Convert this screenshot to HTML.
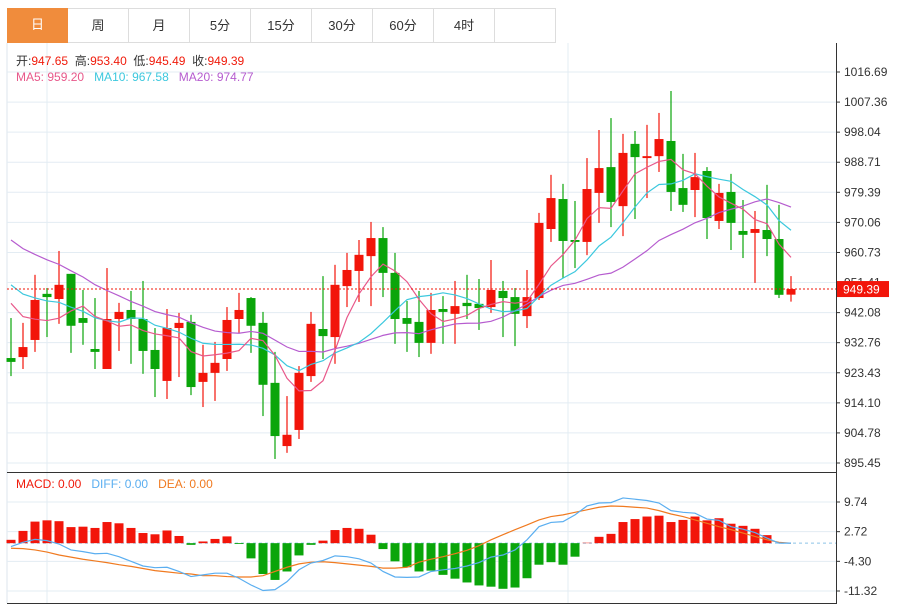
<!DOCTYPE html>
<html><head><meta charset="utf-8"><style>
body{margin:0;background:#fff;font-family:"Liberation Sans","Noto Sans CJK SC",sans-serif;}
#wrap{position:relative;width:910px;height:604px;overflow:hidden;}
.tab{position:absolute;top:8px;height:35px;width:60px;border:1px solid #ddd;border-left:none;box-sizing:border-box;font-size:13px;color:#333;text-align:center;line-height:34px;background:#fff;}
.lbl{position:absolute;font-size:12px;white-space:nowrap;}
</style></head><body>
<div id="wrap">
<div class="tab" style="left:7px;width:61px;background:#f08c3c;color:#fff;border:none;">日</div>
<div class="tab" style="left:68px;width:61px;">周</div>
<div class="tab" style="left:129px;width:61px;">月</div>
<div class="tab" style="left:190px;width:61px;">5分</div>
<div class="tab" style="left:251px;width:61px;">15分</div>
<div class="tab" style="left:312px;width:61px;">30分</div>
<div class="tab" style="left:373px;width:61px;">60分</div>
<div class="tab" style="left:434px;width:61px;">4时</div>
<div class="tab" style="left:495px;width:61px;"></div>
<svg id="chart" width="910" height="604" style="position:absolute;left:0;top:0;"></svg>
<div class="lbl" style="left:16px;top:52px;color:#333;">开:<span style="color:#f01a0a">947.65</span>&nbsp;&nbsp;高:<span style="color:#f01a0a">953.40</span>&nbsp;&nbsp;低:<span style="color:#f01a0a">945.49</span>&nbsp;&nbsp;收:<span style="color:#f01a0a">949.39</span></div>
<div class="lbl" style="left:16px;top:70px;"><span style="color:#e8588a">MA5: 959.20</span>&nbsp;&nbsp;&nbsp;<span style="color:#3cc8de">MA10: 967.58</span>&nbsp;&nbsp;&nbsp;<span style="color:#b65ccf">MA20: 974.77</span></div>
<div class="lbl" style="left:16px;top:477px;"><span style="color:#f01a0a">MACD: 0.00</span>&nbsp;&nbsp;&nbsp;<span style="color:#5aaef0">DIFF: 0.00</span>&nbsp;&nbsp;&nbsp;<span style="color:#f07a20">DEA: 0.00</span></div>
</div>
<script>
const opens=[928.0,928.3,933.6,947.9,946.3,954.1,940.4,930.8,924.6,940.1,942.9,940.1,930.5,920.9,937.3,939.2,920.6,923.4,927.7,940.1,946.6,938.9,920.3,900.7,905.7,922.4,937.0,934.5,950.3,955.0,959.6,965.2,954.4,940.4,939.2,932.7,943.2,941.7,945.1,944.8,943.8,948.8,946.9,941.0,946.6,968.0,977.3,964.6,964.0,979.2,987.2,975.1,994.4,990.0,990.6,995.3,980.7,980.1,986.0,970.5,979.5,967.4,966.8,967.7,964.9,947.65];
const closes=[926.8,931.4,946.0,946.9,950.7,938.0,938.9,929.9,940.1,942.3,940.1,930.2,924.6,937.3,938.9,919.0,923.4,926.5,939.8,942.9,938.0,919.7,903.8,904.2,923.4,938.6,934.8,950.7,955.3,960.0,965.2,954.4,940.1,938.6,932.7,942.9,942.3,944.1,944.1,943.5,949.1,946.6,941.7,946.9,969.9,977.6,964.3,964.0,980.4,986.9,976.4,991.6,990.3,990.6,995.9,979.5,975.5,984.1,971.4,979.2,969.9,966.2,968.0,964.9,947.6,949.39];
const highs=[940.4,938.9,953.8,949.7,961.2,954.1,949.1,946.6,955.9,945.1,948.8,951.9,937.3,943.2,942.0,941.4,932.1,933.0,943.8,948.2,946.9,942.3,929.9,916.2,925.5,942.3,953.4,956.9,960.6,964.6,970.2,968.6,960.6,945.7,948.8,948.2,947.2,951.9,953.8,952.5,958.4,951.9,949.7,955.3,973.0,984.8,982.0,976.7,990.0,998.7,1002.4,997.5,998.4,1000.3,1004.0,1010.8,991.3,991.6,987.2,982.0,985.1,977.0,973.6,981.7,975.5,953.40];
const lows=[922.4,924.6,929.9,934.5,938.6,929.6,932.1,924.6,924.6,930.2,926.2,923.1,915.9,915.3,922.1,916.5,912.8,914.7,924.0,935.8,929.6,910.0,896.7,898.6,902.9,920.6,927.7,926.2,943.8,945.4,944.1,946.9,932.4,929.9,928.3,929.3,932.4,932.4,940.1,936.7,942.0,934.5,931.7,937.3,946.0,964.0,952.8,955.9,959.9,969.9,968.6,965.8,971.1,977.6,985.7,973.6,973.3,971.7,964.9,968.0,961.5,959.0,951.3,959.6,946.6,945.49];
const priorCloses=[985,982,980,979,978,977,978,976,975,975,960,958,956,955,953,952,950,949,947];
const macdHist=[0.79,2.9,5.1,5.4,5.2,3.8,3.9,3.6,5.0,4.7,3.6,2.4,2.1,3.0,1.7,-0.4,0.4,1.0,1.6,-0.2,-3.6,-7.3,-8.7,-6.7,-2.9,-0.4,0.6,3.1,3.6,3.4,2.0,-1.4,-4.3,-5.7,-6.7,-6.5,-7.5,-8.4,-9.3,-10.0,-10.3,-10.8,-10.5,-8.3,-5.1,-4.5,-5.1,-3.2,0.1,1.5,2.2,5.0,5.7,6.3,6.5,5.0,5.5,6.3,5.4,5.9,4.6,4.1,3.4,1.9,0,0];
const diffVals=[-0.8,0.2,0.9,0.6,-0.2,-1.6,-2.0,-2.5,-2.4,-3.2,-4.3,-5.4,-5.8,-5.7,-6.7,-7.9,-7.5,-7.1,-7.1,-8.3,-9.9,-11.2,-11.0,-9.1,-6.3,-4.7,-4.1,-3.0,-3.2,-3.7,-4.7,-6.7,-8.0,-8.1,-8.0,-6.7,-6.3,-6.0,-5.4,-4.6,-3.3,-2.8,-1.6,0.8,3.9,4.9,5.1,6.7,8.8,9.5,9.6,10.7,10.4,10.1,9.5,7.7,7.3,7.1,5.7,5.4,3.9,3.3,2.5,1.2,0,0];
const deaVals=[-1.2,-1.3,-1.6,-2.1,-2.8,-3.3,-3.8,-4.2,-4.6,-5.1,-5.5,-6.0,-6.5,-6.8,-7.1,-7.3,-7.7,-7.7,-7.9,-8.0,-8.0,-7.7,-6.7,-5.7,-4.9,-4.5,-4.4,-4.6,-4.9,-5.2,-5.5,-5.9,-5.9,-5.7,-4.5,-3.8,-3.2,-2.5,-1.7,-0.6,0.8,2.0,3.2,4.3,5.5,6.3,6.7,7.3,7.9,8.5,8.8,8.7,8.5,8.3,7.7,6.9,6.3,5.5,4.7,3.9,3.2,2.4,1.6,0.8,0.2,0];
const priceTicks=["1016.69","1007.36","998.04","988.71","979.39","970.06","960.73","951.41","942.08","932.76","923.43","914.10","904.78","895.45"];
const macdTicks=["9.74","2.72","-4.30","-11.32"];

const NS="http://www.w3.org/2000/svg";
const svg=document.getElementById('chart');
function mk(tag,attrs,parent){const e=document.createElementNS(NS,tag);for(const k in attrs)e.setAttribute(k,attrs[k]);(parent||svg).appendChild(e);return e;}
const RED="#f2150a",GREEN="#0aa50a";
const pMax=1016.69,pMin=895.45,yTop=72,yBot=463;
function yP(p){return yTop+(pMax-p)*(yBot-yTop)/(pMax-pMin);}
const mMax=9.74,mMin=-11.32,myTop=502,myBot=591;
function yM(v){return myTop+(mMax-v)*(myBot-myTop)/(mMax-mMin);}
function xI(i){return 11+12*i;}

// frame & grid
let g=mk('g',{});


mk('line',{x1:7,y1:43,x2:7,y2:603,stroke:'#dde6ee'},g);
priceTicks.forEach(t=>{const y=yP(parseFloat(t));mk('line',{x1:7,y1:y,x2:836,y2:y,stroke:'#e3ecf3'},g);});
macdTicks.forEach(t=>{const y=yM(parseFloat(t));mk('line',{x1:7,y1:y,x2:836,y2:y,stroke:'#e3ecf3'},g);});
[47,568].forEach(x=>{mk('line',{x1:x,y1:43,x2:x,y2:603,stroke:'#e3ecf3'},g);});
mk('line',{x1:7,y1:472.5,x2:836,y2:472.5,stroke:'#333'},g);
mk('line',{x1:7,y1:603.5,x2:836,y2:603.5,stroke:'#333'},g);
mk('line',{x1:836.5,y1:43,x2:836.5,y2:604,stroke:'#333'},g);

// axes labels
const ax=mk('g',{});


priceTicks.forEach(t=>{const y=yP(parseFloat(t));mk('line',{x1:836,y1:y,x2:840,y2:y,stroke:'#333'},ax);const tx=mk('text',{x:844,y:y+4,'font-size':12,fill:'#333','font-family':'Liberation Sans'},ax);tx.textContent=t;});
const ax2=mk('g',{});


macdTicks.forEach(t=>{const y=yM(parseFloat(t));mk('line',{x1:836,y1:y,x2:840,y2:y,stroke:'#333'},ax2);const tx=mk('text',{x:844,y:y+4,'font-size':12,fill:'#333','font-family':'Liberation Sans'},ax2);tx.textContent=t;});

// candles
const cg=mk('g',{});


for(let i=0;i<closes.length;i++){
  const up=closes[i]>=opens[i],col=up?RED:GREEN,x=xI(i);
  const w=mk('line',{x1:x,y1:yP(highs[i]),x2:x,y2:yP(lows[i]),stroke:col,'stroke-width':1.2},cg);
  
  
  const t=yP(Math.max(opens[i],closes[i])),b=yP(Math.min(opens[i],closes[i]));
  const r=mk('rect',{x:x-4.5,y:t,width:9,height:Math.max(1.5,b-t),fill:col},cg);
  
  
}
// MAs
const all=priorCloses.concat(closes);
function ma(n){const o=[];for(let i=0;i<closes.length;i++){const j=i+priorCloses.length;let s=0,c=0;for(let k=j-n+1;k<=j;k++){if(k>=0){s+=all[k];c++;}}o.push(s/c);}return o;}
function poly(vals,yf,col,name){const p=mk('polyline',{points:vals.map((v,i)=>xI(i)+','+yf(v)).join(' '),fill:'none',stroke:col,'stroke-width':1.2});}
poly(ma(20),yP,'#b65ccf','ma20-line');
poly(ma(10),yP,'#3cc8de','ma10-line');
poly(ma(5),yP,'#e8588a','ma5-line');
// last price
const ly=yP(closes[closes.length-1]);
const pl=mk('line',{x1:7,y1:ly,x2:836,y2:ly,stroke:RED,'stroke-dasharray':'2,2'});


const pb=mk('rect',{x:837,y:ly-8,width:52,height:16,fill:RED});


const pt=mk('text',{x:843,y:ly+4.5,'font-size':12,fill:'#fff','font-family':'Liberation Sans'});
pt.textContent=closes[closes.length-1].toFixed(2);

// MACD
const z=yM(0);
const zl=mk('line',{x1:7,y1:z,x2:836,y2:z,stroke:'#8cc4e8','stroke-dasharray':'3,3'});


const hg=mk('g',{});


macdHist.forEach((v,i)=>{const y=yM(v);const r=mk('rect',{x:xI(i)-4.5,y:Math.min(y,z),width:9,height:Math.abs(y-z),fill:v>=0?RED:GREEN},hg);});
poly(deaVals,yM,'#f07a20','dea-line');
poly(diffVals,yM,'#5aaef0','diff-line');
</script>
</body></html>
